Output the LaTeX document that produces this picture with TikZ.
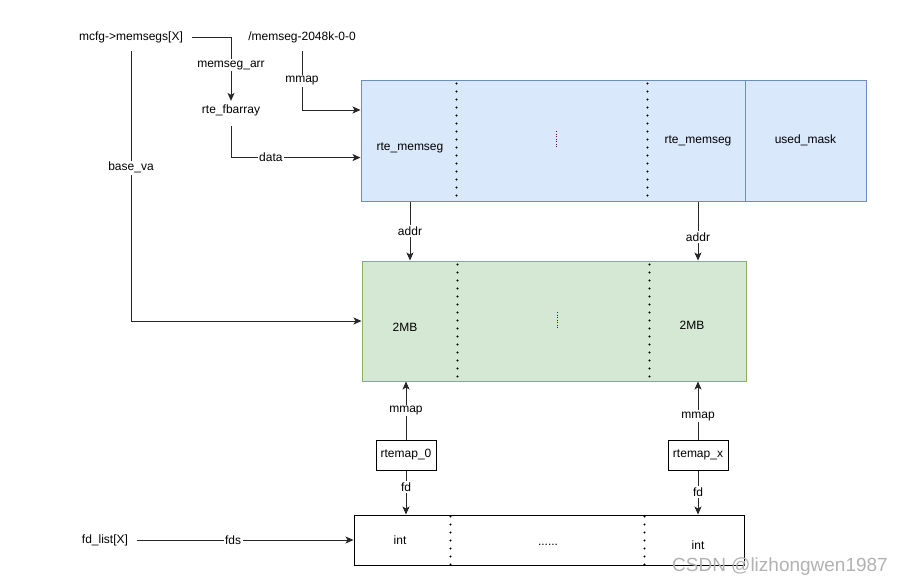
\documentclass[tikz,border=0pt]{standalone}
\usepackage{fontspec}
\setmainfont{Liberation Sans}
\usetikzlibrary{arrows.meta,calc}
\definecolor{bluefill}{HTML}{DAE8FC}
\definecolor{bluedraw}{HTML}{6C8EBF}
\definecolor{greenfill}{HTML}{D5E8D4}
\definecolor{greendraw}{HTML}{82B366}
\definecolor{purp}{HTML}{660066}
\begin{document}
\begin{tikzpicture}[x=1pt,y=-1pt,
  font=\fontsize{12}{14}\selectfont,
  box/.style={inner sep=0pt, line width=1pt},
  conn/.style={draw=black!85, line width=0.9pt, -{Stealth[length=8pt,width=7pt,inset=2pt]}},
  lbl/.style={fill=white, inner sep=1.5pt},
  dotl/.style={line width=2.2pt, dash pattern=on 0pt off 8pt, line cap=round},
  pdot/.style={draw=purp, line width=0.6pt, dash pattern=on 1pt off 1.5pt}]
\useasboundingbox (0,0) rectangle (902,587);
\fill[white] (0,0) rectangle (902,587);

% boxes
\node[box, fill=bluefill, draw=bluedraw, minimum width=384pt, minimum height=121pt] (blue) at (553,140.5) {};
\node[box, fill=bluefill, draw=bluedraw, minimum width=121pt, minimum height=121pt] (umask) at (805.5,140.5) {used\_mask};
\node[box, fill=greenfill, draw=greendraw, minimum width=384pt, minimum height=120pt] (green) at (554,321) {};
\node[box, draw=black, minimum width=390pt, minimum height=50pt] (ints) at (549,540) {};
\node[box, draw=black, minimum width=60pt, minimum height=30pt] (rt0) at (406,455) {rtemap\_0};
\node[box, draw=black, minimum width=60pt, minimum height=30pt] (rtx) at (698,455) {rtemap\_x};

% dotted separators
\draw[dotl] ($(blue.north west)+(96,4)$) -- ($(blue.south west)+(96,0)$);
\draw[dotl] ($(blue.north west)+(287,4)$) -- ($(blue.south west)+(287,0)$);
\draw[dotl] ($(green.north west)+(96,4)$) -- ($(green.south west)+(96,0)$);
\draw[dotl] ($(green.north west)+(288,4)$) -- ($(green.south west)+(288,0)$);
\draw[dotl] ($(ints.north west)+(97,2)$) -- ($(ints.south west)+(97,0)$);
\draw[dotl] ($(ints.north west)+(291,2)$) -- ($(ints.south west)+(291,0)$);
\draw[pdot] (556,131) -- (556,148);
\draw[pdot] (557,312) -- (557,328);

% texts
\node (mcfg) at (131,37) {mcfg->memsegs[X]};
\node (memfile) at (302,37) {/memseg-2048k-0-0};
\node (fbarray) at (231,110) {rte\_fbarray};
\node (fdlist) at (105,540) {fd\_list[X]};
\node (rm1) at (410,148) {rte\_memseg};
\node (rm2) at (698,141) {rte\_memseg};
\node (mb1) at (405,327) {2MB};
\node (mb2) at (692,325) {2MB};
\node (int1) at (400,540) {int};
\node (int2) at (698,545) {int};
\node (idots) at (548,545) {......};
\node[text=black!30, font=\fontsize{19}{22}\selectfont] (wm) at (780,567) {CSDN @lizhongwen1987};

% connectors
\draw[conn] ([xshift=6pt]mcfg.east) -| (fbarray.north) node[lbl, pos=0.72] (l1) {memseg\_arr};
\draw[conn] ([yshift=-5pt]mcfg.south) |- (green.west) node[lbl, pos=0.216] (l2) {base\_va};
\draw[conn] ([yshift=-5pt]memfile.south) |- ($(blue.north west)!0.25!(blue.south west)$) node[lbl, pos=0.25] (l3) {mmap};
\draw[conn] ([yshift=-7pt]fbarray.south) |- ($(blue.north west)!0.64!(blue.south west)$) node[lbl, pos=0.654] (l4) {data};
\draw[conn] (rm1 |- blue.south) -- (rm1 |- green.north) node[lbl, midway] (l5) {addr};
\draw[conn] (rm2 |- blue.south) -- (rm2 |- green.north) node[lbl, pos=0.6] (l6) {addr};
\draw[conn] (rt0.north) -- (rt0.north |- green.south) node[lbl, pos=0.5] (l7) {mmap};
\draw[conn] (rtx.north) -- (rtx.north |- green.south) node[lbl, pos=0.4] (l8) {mmap};
\draw[conn] (rt0.south) -- (rt0.south |- ints.north) node[lbl, pos=0.38] (l9) {fd};
\draw[conn] (rtx.south) -- (rtx.south |- ints.north) node[lbl, pos=0.49] (l10) {fd};
\draw[conn] ([xshift=5pt]fdlist.east) -- (ints.west) node[lbl, pos=0.445] (l11) {fds};
\end{tikzpicture}
\end{document}
